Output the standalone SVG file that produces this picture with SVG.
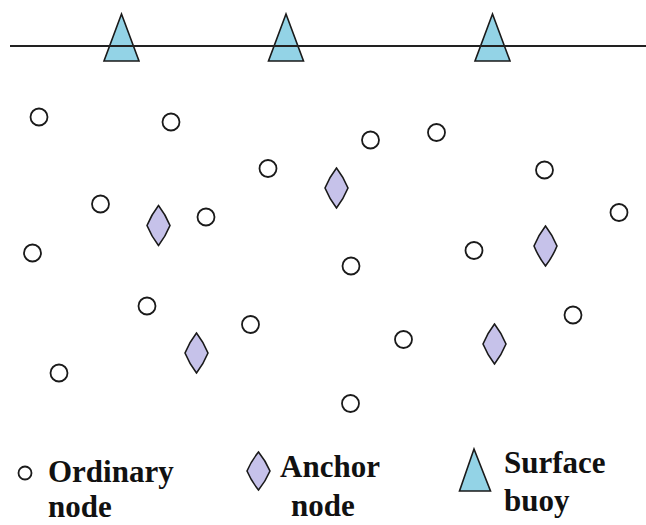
<svg xmlns="http://www.w3.org/2000/svg" width="646" height="525" viewBox="0 0 646 525">
<defs>
<style>
.ord{fill:#fff;stroke:#1a1a1a;stroke-width:1.8}
.anc{fill:#c6c2ea;stroke:#1a1a1a;stroke-width:1.6}
.buoy{fill:#93d3e6;stroke:#1a1a1a;stroke-width:1.6;stroke-linejoin:miter}
.lbl{font-family:'Liberation Serif','DejaVu Serif',serif;font-weight:bold;font-size:31px;fill:#111}
</style>
<circle id="c" class="ord" r="8.5"/>
<path id="d" class="anc" d="M0,-20 Q7,-11 11.5,0 Q7,11 0,20 Q-7,11 -11.5,0 Q-7,-11 0,-20Z"/>
<path id="t" class="buoy" d="M0,-47 L17.5,0 L-17.5,0Z"/>
</defs>
<rect width="646" height="525" fill="#fff"/>
<g id="buoys">
<g id="buoy1"><use href="#t" x="121.5" y="61"/></g>
<g id="buoy2"><use href="#t" x="286" y="61"/></g>
<g id="buoy3"><use href="#t" x="492.5" y="61"/></g>
</g>
<line id="surface" x1="10" y1="46" x2="646" y2="46" stroke="#222" stroke-width="2"/>
<g id="ordinary-nodes">
<g id="n1"><use href="#c" x="39" y="117"/></g>
<g id="n2"><use href="#c" x="171" y="122"/></g>
<g id="n3"><use href="#c" x="268" y="168.5"/></g>
<g id="n4"><use href="#c" x="100.5" y="204"/></g>
<g id="n5"><use href="#c" x="206" y="217"/></g>
<g id="n6"><use href="#c" x="32.5" y="253"/></g>
<g id="n7"><use href="#c" x="147" y="306"/></g>
<g id="n8"><use href="#c" x="250.5" y="324.5"/></g>
<g id="n9"><use href="#c" x="59" y="373"/></g>
<g id="n10"><use href="#c" x="370.5" y="140"/></g>
<g id="n11"><use href="#c" x="436.5" y="132.5"/></g>
<g id="n12"><use href="#c" x="544.5" y="170"/></g>
<g id="n13"><use href="#c" x="619" y="212.5"/></g>
<g id="n14"><use href="#c" x="474" y="250.5"/></g>
<g id="n15"><use href="#c" x="351" y="266"/></g>
<g id="n16"><use href="#c" x="573" y="315"/></g>
<g id="n17"><use href="#c" x="403.5" y="339.5"/></g>
<g id="n18"><use href="#c" x="350.5" y="403.5"/></g>
</g>
<g id="anchor-nodes">
<g id="a1"><use href="#d" x="158.5" y="225.5"/></g>
<g id="a2"><use href="#d" x="336.5" y="188"/></g>
<g id="a3"><use href="#d" x="545.5" y="246"/></g>
<g id="a4"><use href="#d" x="196.5" y="353"/></g>
<g id="a5"><use href="#d" x="494.5" y="344"/></g>
</g>
<g id="legend">
<g id="legend-ordinary">
<circle class="ord" cx="25" cy="473" r="6.5" stroke-width="1.6"/>
<text class="lbl" x="48" y="482" font-family="Liberation Serif, serif">Ordinary</text>
<text class="lbl" x="48" y="517" font-family="Liberation Serif, serif">node</text>
</g>
<g id="legend-anchor">
<path class="anc" transform="translate(258.5,471) scale(1,0.95)" d="M0,-20 Q7,-11 11.5,0 Q7,11 0,20 Q-7,11 -11.5,0 Q-7,-11 0,-20Z"/>
<text class="lbl" x="280" y="477" font-family="Liberation Serif, serif">Anchor</text>
<text class="lbl" x="291" y="516" font-family="Liberation Serif, serif">node</text>
</g>
<g id="legend-buoy">
<path class="buoy" d="M474,449 L490.5,491 L459.5,491Z"/>
<text class="lbl" x="504" y="473" font-family="Liberation Serif, serif">Surface</text>
<text class="lbl" x="504" y="511" font-family="Liberation Serif, serif">buoy</text>
</g>
</g>
</svg>
